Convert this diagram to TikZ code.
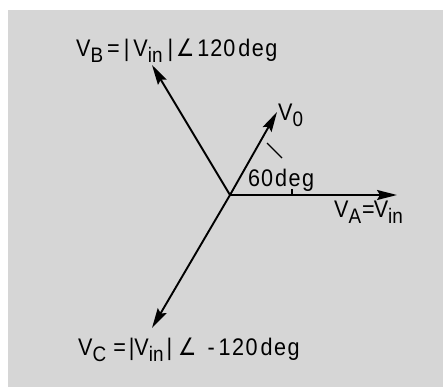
\documentclass[tikz,border=0pt]{standalone}
\usepackage{fontspec}
\setmainfont{Liberation Sans}[FakeStretch=0.9]
\newfontfamily\symfont{DejaVu Sans}[FakeStretch=0.85]
\usetikzlibrary{arrows.meta}
\newcommand\sbx[1]{\raisebox{-0.25em}{\fontsize{21}{21}\selectfont #1}}
\newcommand\ang{{\symfont\char"2220}}
\newcommand\dg{d\hspace{1.5pt}e\hspace{1.5pt}g}
\tikzset{
  vec/.style={line width=1.9pt, -{Stealth[length=20pt,width=10pt,inset=3pt]}},
  lbl/.style={inner sep=0pt, anchor=base west, font=\fontsize{24}{24}\selectfont},
  thin/.style={line width=1.3pt}
}
\begin{document}
\begin{tikzpicture}[x=1pt,y=-1pt]
\useasboundingbox (0,0) rectangle (443,387);
\fill[white] (0,0) rectangle (443,387);
\fill[black!16] (8,10) rectangle (443,387);
\coordinate (O) at (230,195);
\coordinate (A) at (397,195);
\coordinate (B) at (152,65);
\coordinate (C) at (152,328);
\coordinate (D) at (277,112);
\draw[vec] (O) -- (A);
\draw[vec] (O) -- (B);
\draw[vec] (O) -- (C);
\draw[vec] (O) -- (D);
\coordinate (t1) at (267,143);
\coordinate (t2) at (282,158);
\draw[thin] (t1) -- (t2);
\coordinate (k1) at (292,189);
\coordinate (k2) at (292,195);
\draw[thin] (k1) -- (k2);
\node[lbl] (lB) at (76,57) {V\sbx{B}\,=\,|\,V\sbx{in}\hspace{5pt}|\hspace{3pt}\ang\hspace{3pt}1\hspace{1pt}2\hspace{1pt}0\hspace{3pt}\dg};
\node[lbl] (lO) at (278,121) {V\sbx{0}};
\node[lbl] (l60) at (248,186) {6\hspace{1pt}0\hspace{2pt}\dg};
\node[lbl] (lA) at (334,217) {V\sbx{A}\hspace{1pt}=\hspace{-1pt}V\sbx{in}};
\node[lbl] (lC) at (78,355) {V\sbx{C}\hspace{7pt}=\hspace{3pt}|V\sbx{in}\hspace{3pt}|\hspace{6pt}\ang\hspace{11pt}-\hspace{4pt}1\hspace{1.5pt}2\hspace{1.5pt}0\hspace{3pt}\dg};
\end{tikzpicture}
\end{document}
